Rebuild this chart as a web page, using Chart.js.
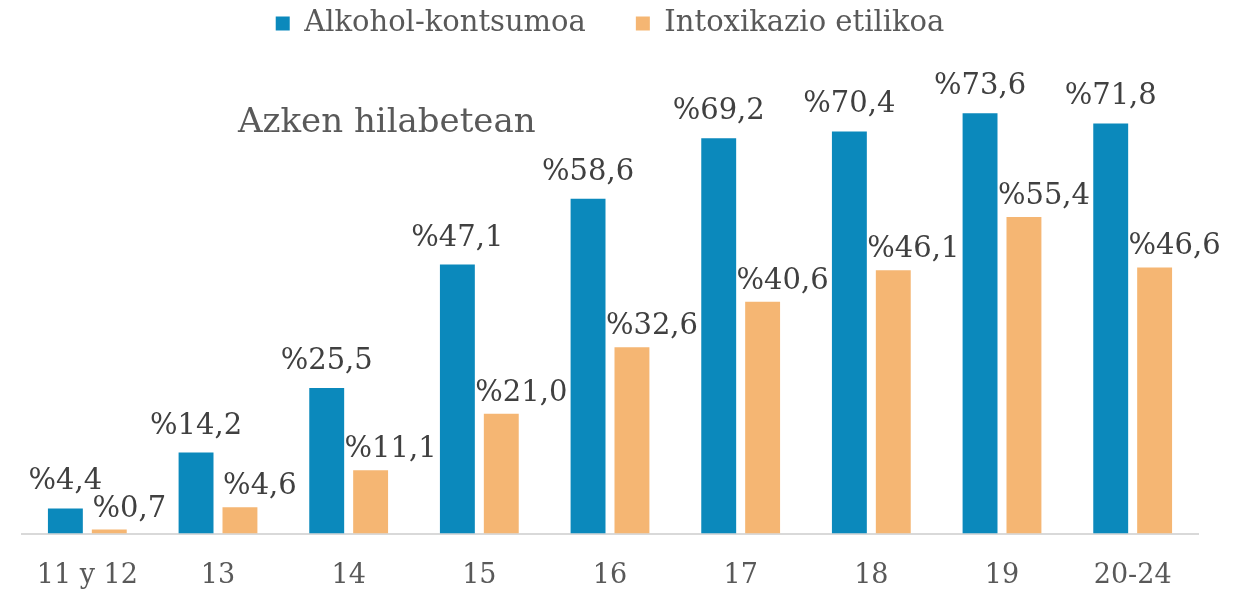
<!DOCTYPE html>
<html>
<head>
<meta charset="utf-8">
<script src="https://cdn.jsdelivr.net/npm/chart.js@4/dist/chart.umd.min.js"></script>
<style>
  html, body { margin: 0; padding: 0; background: #fff; }
  #wrap { width: 1239px; height: 590px; }
</style>
</head>
<body>
<div id="wrap"><canvas id="ageChart"></canvas></div>
<script>
var categories = ['11 y 12', '13', '14', '15', '16', '17', '18', '19', '20-24'];
var alcoholValues = [4.4, 14.2, 25.5, 47.1, 58.6, 69.2, 70.4, 73.6, 71.8];
var intoxValues = [0.7, 4.6, 11.1, 21.0, 32.6, 40.6, 46.1, 55.4, 46.6];
var seriesNames = ['Alkohol-kontsumoa', 'Intoxikazio etilikoa'];

var textColor = '#595959';
var fontFamily = '"DejaVu Serif", "Liberation Serif", serif';

function fmt(v) {
    return '%' + v.toFixed(1).replace('.', ',');
}

// etiketak barren gainean
var barLabels = {
    id: 'barLabels',
    afterDatasetsDraw: function(chart) {
        var ctx = chart.ctx;
        ctx.save();
        ctx.font = '29px ' + fontFamily;
        ctx.fillStyle = '#404040';
        ctx.textAlign = 'center';
        ctx.textBaseline = 'bottom';
        chart.data.datasets.forEach(function(ds, i) {
            var meta = chart.getDatasetMeta(i);
            var shift = i === 0 ? 0 : 20;
            var lift = i === 0 ? 12 : 6;
            meta.data.forEach(function(bar, j) {
                ctx.fillText(fmt(ds.data[j]), bar.x + shift, bar.y - lift);
            });
        });
        ctx.restore();
    }
};

var noteText = {
    id: 'noteText',
    afterDraw: function(chart) {
        var ctx = chart.ctx;
        ctx.save();
        ctx.font = '34px ' + fontFamily;
        ctx.fillStyle = textColor;
        ctx.textAlign = 'left';
        ctx.textBaseline = 'alphabetic';
        ctx.fillText('Azken hilabetean', 238, 132);
        ctx.restore();
    }
};

var ctx = document.getElementById('ageChart').getContext('2d');
var ageChart = new Chart(ctx, {
    type: 'bar',
    data: {
        labels: categories,
        datasets: [{
            label: seriesNames[0],
            data: alcoholValues,
            backgroundColor: '#0B89BC',
            categoryPercentage: 0.672,
            barPercentage: 0.795
        }, {
            label: seriesNames[1],
            data: intoxValues,
            backgroundColor: '#F5B673',
            categoryPercentage: 0.672,
            barPercentage: 0.795
        }]
    },
    options: {
        responsive: true,
        maintainAspectRatio: false,
        animation: false,
        layout: { padding: { left: 22, right: 41, top: -41, bottom: -28 } },
        plugins: {
            legend: {
                position: 'top',
                labels: {
                    boxWidth: 14,
                    boxHeight: 14,
                    padding: 50,
                    color: textColor,
                    font: { family: fontFamily, size: 29 }
                }
            },
            tooltip: { enabled: false }
        },
        scales: {
            x: {
                grid: { display: false, drawTicks: false },
                border: { display: true, color: '#D9D9D9', width: 2 },
                ticks: {
                    color: textColor,
                    padding: 26,
                    font: { family: fontFamily, size: 27 }
                }
            },
            y: {
                display: false,
                min: 0,
                max: 85
            }
        }
    },
    plugins: [barLabels, noteText]
});
</script>
</body>
</html>
